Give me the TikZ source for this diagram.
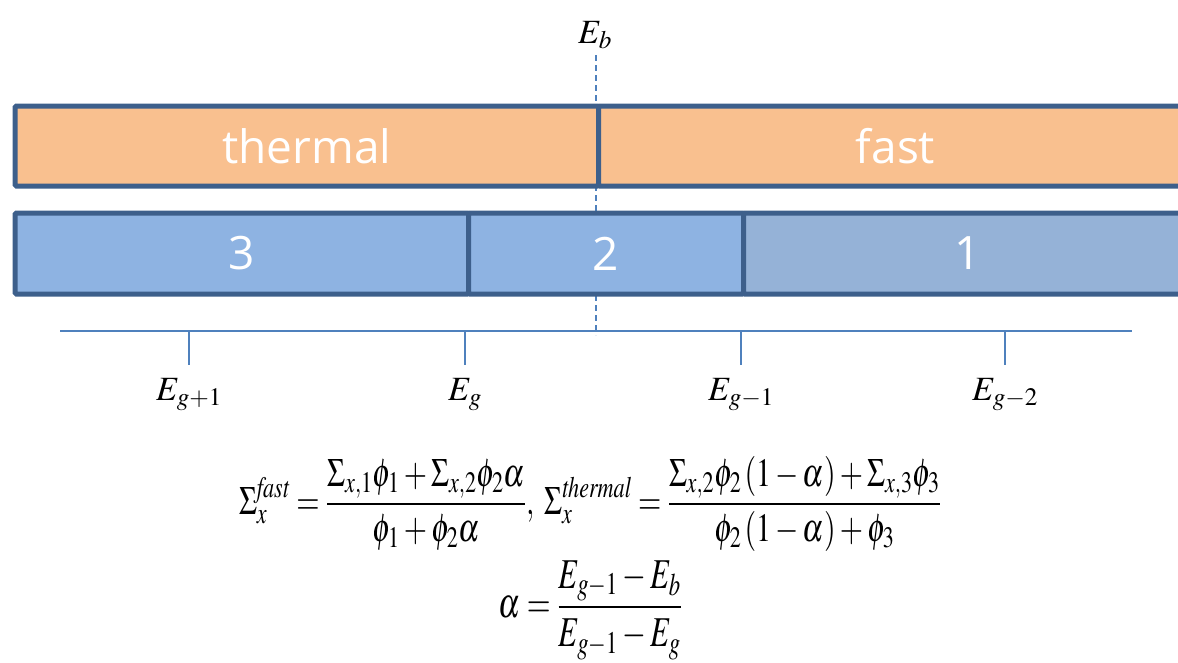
\documentclass[tikz,border=0pt]{standalone}
\usepackage{mathptmx}
\usepackage{graphicx}
\usepackage[no-math]{fontspec}
\newfontfamily\barfont{Open Sans}

\begin{document}
\begin{tikzpicture}[x=1pt,y=-1pt,font=\fontsize{34}{40}\selectfont]
\definecolor{edgeblue}{HTML}{3D5F8B}
\definecolor{thermalorange}{HTML}{F9C08F}
\definecolor{groupblue}{HTML}{8EB3E2}
\definecolor{fastgroupblue}{HTML}{95B2D7}
\definecolor{axisblue}{HTML}{4F81BD}
\tikzset{
  band/.style={draw=edgeblue,line width=5pt,inner sep=0pt,anchor=north west,
    rounded corners=1.5pt,text=white,font=\barfont\fontsize{46}{50}\selectfont},
  tick/.style={axisblue,line width=1.5pt},
}
\useasboundingbox (0,0) rectangle (1178,662);
\clip (0,0) rectangle (1178,662);
% boundary energy, drawn first so the bands cover it
\node[inner sep=0pt] (eb) at (595,35) {$E_b$};
\coordinate (ebtop) at (596,55);
\coordinate (ebbot) at (596,335);
\draw[tick,dashed,dash pattern=on 6pt off 4pt] (ebtop) -- (ebbot);
% upper band: thermal / fast
\node[band,fill=thermalorange,minimum width=583.5pt,minimum height=80pt] (thermal) at (12.5,103.5) {thermal};
\node[band,fill=thermalorange,minimum width=594pt,minimum height=80pt] (fast) at (596,103.5) {fast};
% lower band: groups 3, 2, 1
\node[band,fill=groupblue,minimum width=453.5pt,minimum height=81pt] (grp3) at (12.5,210.5) {3};
\node[band,fill=groupblue,minimum width=275pt,minimum height=81pt] (grp2) at (466,210.5) {2};
\node[band,fill=fastgroupblue,minimum width=449pt,minimum height=81pt] (grp1) at (741,210.5) {1};
% energy axis
\coordinate (axisleft) at (60,331);
\coordinate (axisright) at (1132,331);
\draw[tick] (axisleft) -- (axisright);
\foreach \xpos/\tname/\tsub in {189/egplus/{g+1},465/eg/{g},741/egminus/{g-1},1005/egminustwo/{g-2}}{
  \coordinate (\tname top) at (\xpos,331);
  \coordinate (\tname bot) at (\xpos,365);
  \draw[tick] (\tname top) -- (\tname bot);
  \node[anchor=north,inner sep=0pt] (\tname) at (\xpos,378) {$E_{\tsub}$};
}
% collapsing formulas
\node[inner sep=0pt] (sigmas) at (590,504) {\scalebox{0.88}[1.18]{$\displaystyle
  \Sigma_x^{\mathit{fast}} = \frac{\Sigma_{x,1}\phi_1+\Sigma_{x,2}\phi_2\alpha}{\phi_1+\phi_2\alpha},\;
  \Sigma_x^{\mathit{thermal}} = \frac{\Sigma_{x,2}\phi_2\left(1-\alpha\right)+\Sigma_{x,3}\phi_3}{\phi_2\left(1-\alpha\right)+\phi_3}$}};
\node[inner sep=0pt] (alpha) at (590,610) {\scalebox{0.9}[1.25]{$\displaystyle
  \alpha = \frac{E_{g-1}-E_b}{E_{g-1}-E_g}$}};
\end{tikzpicture}
\end{document}
